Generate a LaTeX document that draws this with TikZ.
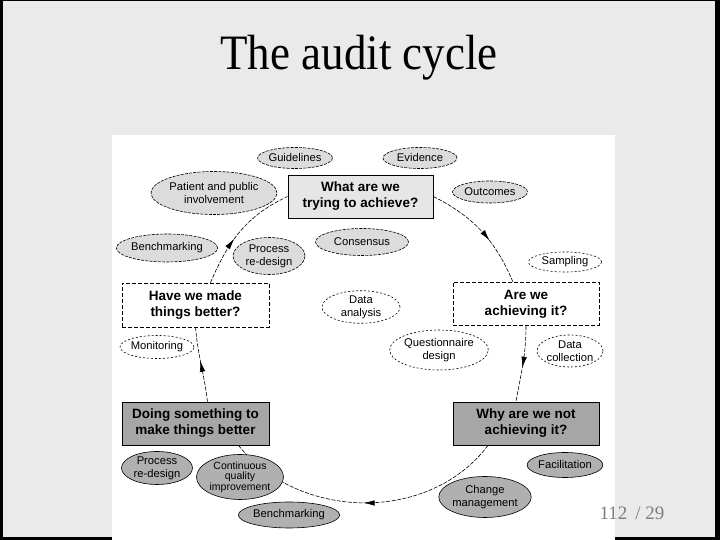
\documentclass[tikz,border=0pt]{standalone}
\usepackage{fontspec}
\setmainfont{Liberation Sans}
\newfontfamily\titlefont{Liberation Serif}
\usetikzlibrary{shapes.geometric,decorations.markings,arrows.meta}
\definecolor{bggray}{RGB}{234,234,234}
\definecolor{lightbox}{RGB}{230,230,230}
\definecolor{lightell}{RGB}{220,220,220}
\definecolor{darkbox}{RGB}{166,166,166}
\definecolor{darkell}{RGB}{176,176,176}
\definecolor{pagegray}{RGB}{125,125,125}
\tikzset{
  qbox/.style={rectangle, draw=black, inner sep=0pt, align=center,
    minimum width=146pt, minimum height=43pt,
    font=\fontsize{13.5}{16}\selectfont\bfseries},
  solidbox/.style={qbox, line width=0.8pt},
  dashbox/.style={qbox, line width=0.7pt, fill=white, dash pattern=on 4pt off 2pt},
  ell/.style={ellipse, inner sep=0pt, align=center, text=black,
    font=\fontsize{11.2}{13}\selectfont},
  topell/.style={ell, fill=lightell, draw=black, line width=0.6pt, dash pattern=on 3pt off 1.2pt},
  wellp/.style={ell, fill=white, draw=black, line width=0.6pt, dash pattern=on 2pt off 2pt},
  lowell/.style={ell, fill=darkell, draw=black, line width=0.6pt},
  cyc/.style={line width=0.6pt, dash pattern=on 4pt off 1.5pt, postaction={decorate},
    decoration={markings, mark=at position #1 with {\arrow{Latex[length=11pt,width=5.5pt]}}}},
  cyc/.default=0.5
}
\begin{document}
\begin{tikzpicture}[x=1pt,y=1pt]
\useasboundingbox (0,0) rectangle (720,540);
\fill[black] (0,0) rectangle (720,540);
\fill[bggray] (3,3) rectangle (715,539);
\fill[white] (112,0) rectangle (615,405);

\node[font=\titlefont\fontsize{45}{45}\selectfont, yscale=1.1] (title) at (359,482) {The audit cycle};
\node[font=\titlefont\fontsize{19}{19}\selectfont, text=pagegray] (page) at (632,27) {112 \,/ 29};

% boxes
\node[solidbox, fill=lightbox, minimum width=145pt] (what) at (360.5,343.5) {What are we\\trying to achieve?};
\node[dashbox] (are) at (526,236) {Are we\\achieving it?};
\node[dashbox, minimum width=147pt, minimum height=44pt] (have) at (195.5,235) {Have we made\\things better?};
\node[solidbox, fill=darkbox, minimum width=147pt] (doing) at (195.5,116.5) {Doing something to\\make things better};
\node[solidbox, fill=darkbox] (why) at (526,116.5) {Why are we not\\achieving it?};

% cycle connectors
\draw[cyc=0.6] (what.east) to[out=-27,in=113] ([xshift=-13pt]are.north);
\draw[cyc=0.55] (are.south) to[out=-90,in=80] ([xshift=-10pt]why.north);
\draw[cyc=0.5] ([xshift=-38pt]why.south) to[out=-127,in=-51] ([xshift=43pt]doing.south);
\draw[cyc=0.55] ([xshift=12pt]doing.north) to[out=97,in=-85] (have.south);
\draw[cyc=0.42] ([xshift=15pt]have.north) to[out=67,in=-155] (what.west);

% ellipses
\node[topell, minimum width=74pt, minimum height=21pt] (guide) at (295,382) {Guidelines};
\node[topell, minimum width=74pt, minimum height=21pt] (evid) at (420,382) {Evidence};
\node[topell, minimum width=109pt, minimum height=43pt] (patient) at (214,347) {Patient and public\\involvement};
\node[topell, minimum width=75pt, minimum height=22pt] (outc) at (490,348) {Outcomes};
\node[topell, minimum width=91pt, minimum height=28pt] (benchA) at (167,292) {Benchmarking};
\node[topell, minimum width=72pt, minimum height=37pt] (procA) at (269,284) {Process\\re-design};
\node[topell, minimum width=93pt, minimum height=27pt] (cons) at (362,298) {Consensus};

\node[wellp, minimum width=73pt, minimum height=20pt] (samp) at (565,278) {Sampling};
\node[wellp, minimum width=78pt, minimum height=31pt] (dana) at (361,233) {Data\\analysis};
\node[wellp, minimum width=70pt, minimum height=23pt] (monit) at (157,193) {Monitoring};
\node[wellp, minimum width=85pt, minimum height=40pt] (quest) at (439,190) {Questionnaire\\design};
\node[wellp, minimum width=66pt, minimum height=32pt] (dcoll) at (570,189) {Data\\collection};

\node[lowell, minimum width=71pt, minimum height=33pt] (procB) at (157,72) {Process\\re-design};
\node[lowell, minimum width=87pt, minimum height=45pt, font=\fontsize{10.5}{10.5}\selectfont] (cqi) at (240,63) {Continuous\\quality\\improvement};
\node[lowell, minimum width=92pt, minimum height=26pt] (benchB) at (289,25) {Benchmarking};
\node[lowell, minimum width=73pt, minimum height=25pt] (facil) at (565,75) {Facilitation};
\node[lowell, minimum width=87pt, minimum height=41pt] (change) at (485,43) {Change\\management};
\end{tikzpicture}
\end{document}
